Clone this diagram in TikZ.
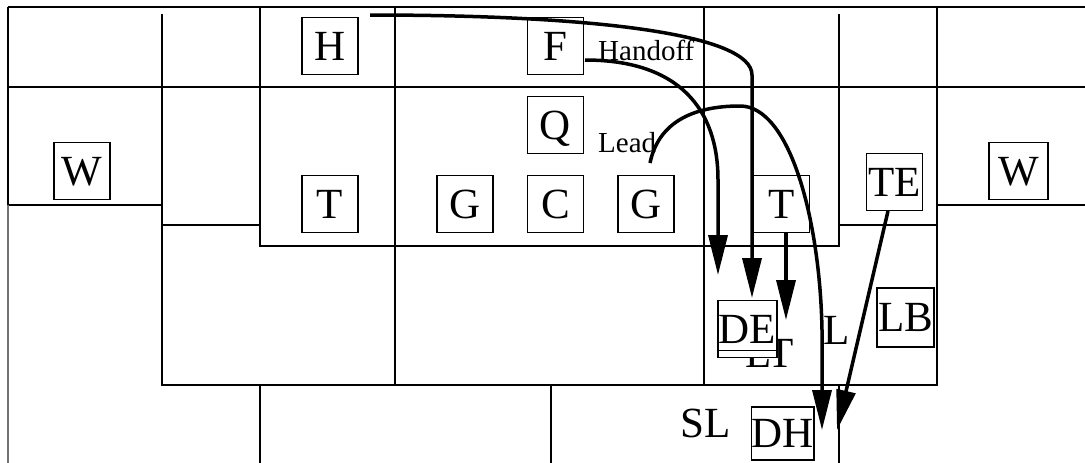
\documentclass[tikz,border=0pt]{standalone}
\usepackage{fontspec}
\setmainfont{Liberation Serif}
\usetikzlibrary{arrows.meta,calc}
\begin{document}
\begin{tikzpicture}[x=1pt,y=-1pt,
  gridline/.style={line width=2.4pt},
  player/.style={draw, line width=1.9pt, fill=white, inner sep=0pt,
    minimum width=56pt, minimum height=57pt, text depth=0pt,
    font=\fontsize{43}{48}\selectfont},
  biglbl/.style={anchor=base west, inner sep=0pt, font=\fontsize{43}{48}\selectfont},
  smalllbl/.style={anchor=base west, inner sep=0pt, font=\fontsize{29}{34}\selectfont},
  route/.style={line width=3.5pt, -{Triangle[length=40pt,width=19pt]}}
]
\useasboundingbox (0,0) rectangle (1085,463);
% field grid
\draw[gridline] (8,7) -- (1085,7);
\draw[gridline] (8,87) -- (1085,87);
\draw[gridline] (8,7) -- (8,205) -- (162,205);
\draw[gridline, black!55] (8,205) -- (8,463);
\draw[gridline] (162,14) -- (162,385) -- (937,385) -- (937,7);
\draw[gridline] (162,225) -- (260,225);
\draw[gridline] (260,7) -- (260,246) -- (839,246) -- (839,14);
\draw[gridline] (839,225) -- (937,225);
\draw[gridline] (937,205) -- (1085,205);
\draw[gridline] (395,7) -- (395,385);
\draw[gridline] (704,7) -- (704,385);
\draw[gridline] (260,385) -- (260,463);
\draw[gridline] (551,385) -- (551,463);
\draw[gridline] (839,385) -- (839,463);
% labels
\node[smalllbl] (handoff) at (598,60) {Handoff};
\node[smalllbl] (lead) at (598,152) {Lead};
\node[biglbl] (sl) at (680,437) {SL};
\node[biglbl] (l) at (823,344) {L};
\node[biglbl] (lt) at (745,367) {LT};
% players
\node[player] (H) at (330,46) {H};
\node[player] (W1) at (82,171) {W};
\node[player] (T1) at (330,204) {T};
\node[player] (F) at (555.5,46) {F};
\node[player] (Q) at (555.5,125) {Q};
\node[player] (G1) at (465,204) {G};
\node[player] (C) at (555.5,204) {C};
\node[player] (G2) at (646,204) {G};
\node[player] (T2) at (781.5,204) {T};
\node[player] (TE) at (894.5,182) {TE};
\node[player, minimum width=59pt] (W2) at (1018.5,171) {W};
\node[player, minimum width=59pt] (DE) at (747.5,329) {DE};
\draw[line width=1.5pt] ($(DE.south west)+(0,-8)$) -- ($(DE.south east)+(0,-8)$);
\node[player, minimum width=57pt, minimum height=59pt] (LB) at (905.5,317.5) {LB};
\node[player, minimum width=59pt, minimum height=53pt] (DH) at (782.5,433.5) {DH};
% routes
\coordinate (hs) at (370,15);
\coordinate (he) at (752,298);
\coordinate (fs) at (585,60);
\coordinate (fe) at (718,275);
\coordinate (ls) at (650,163);
\coordinate (le) at (822,430);
\coordinate (ts) at (786,233);
\coordinate (te) at (786,320);
\coordinate (tes) at (888,211);
\coordinate (tee) at (837,430);
\draw[route] (hs) .. controls (600,15) and (752,35) .. (752,75) -- (he);
\draw[route] (fs) .. controls (680,60) and (718,110) .. (718,180) -- (fe);
\draw[route] (ls) .. controls (660,115) and (705,106) .. (740,106)
  .. controls (790,106) and (820,220) .. (822,330) -- (le);
\draw[route] (ts) -- (te);
\draw[route] (tes) -- (tee);
\end{tikzpicture}
\end{document}
